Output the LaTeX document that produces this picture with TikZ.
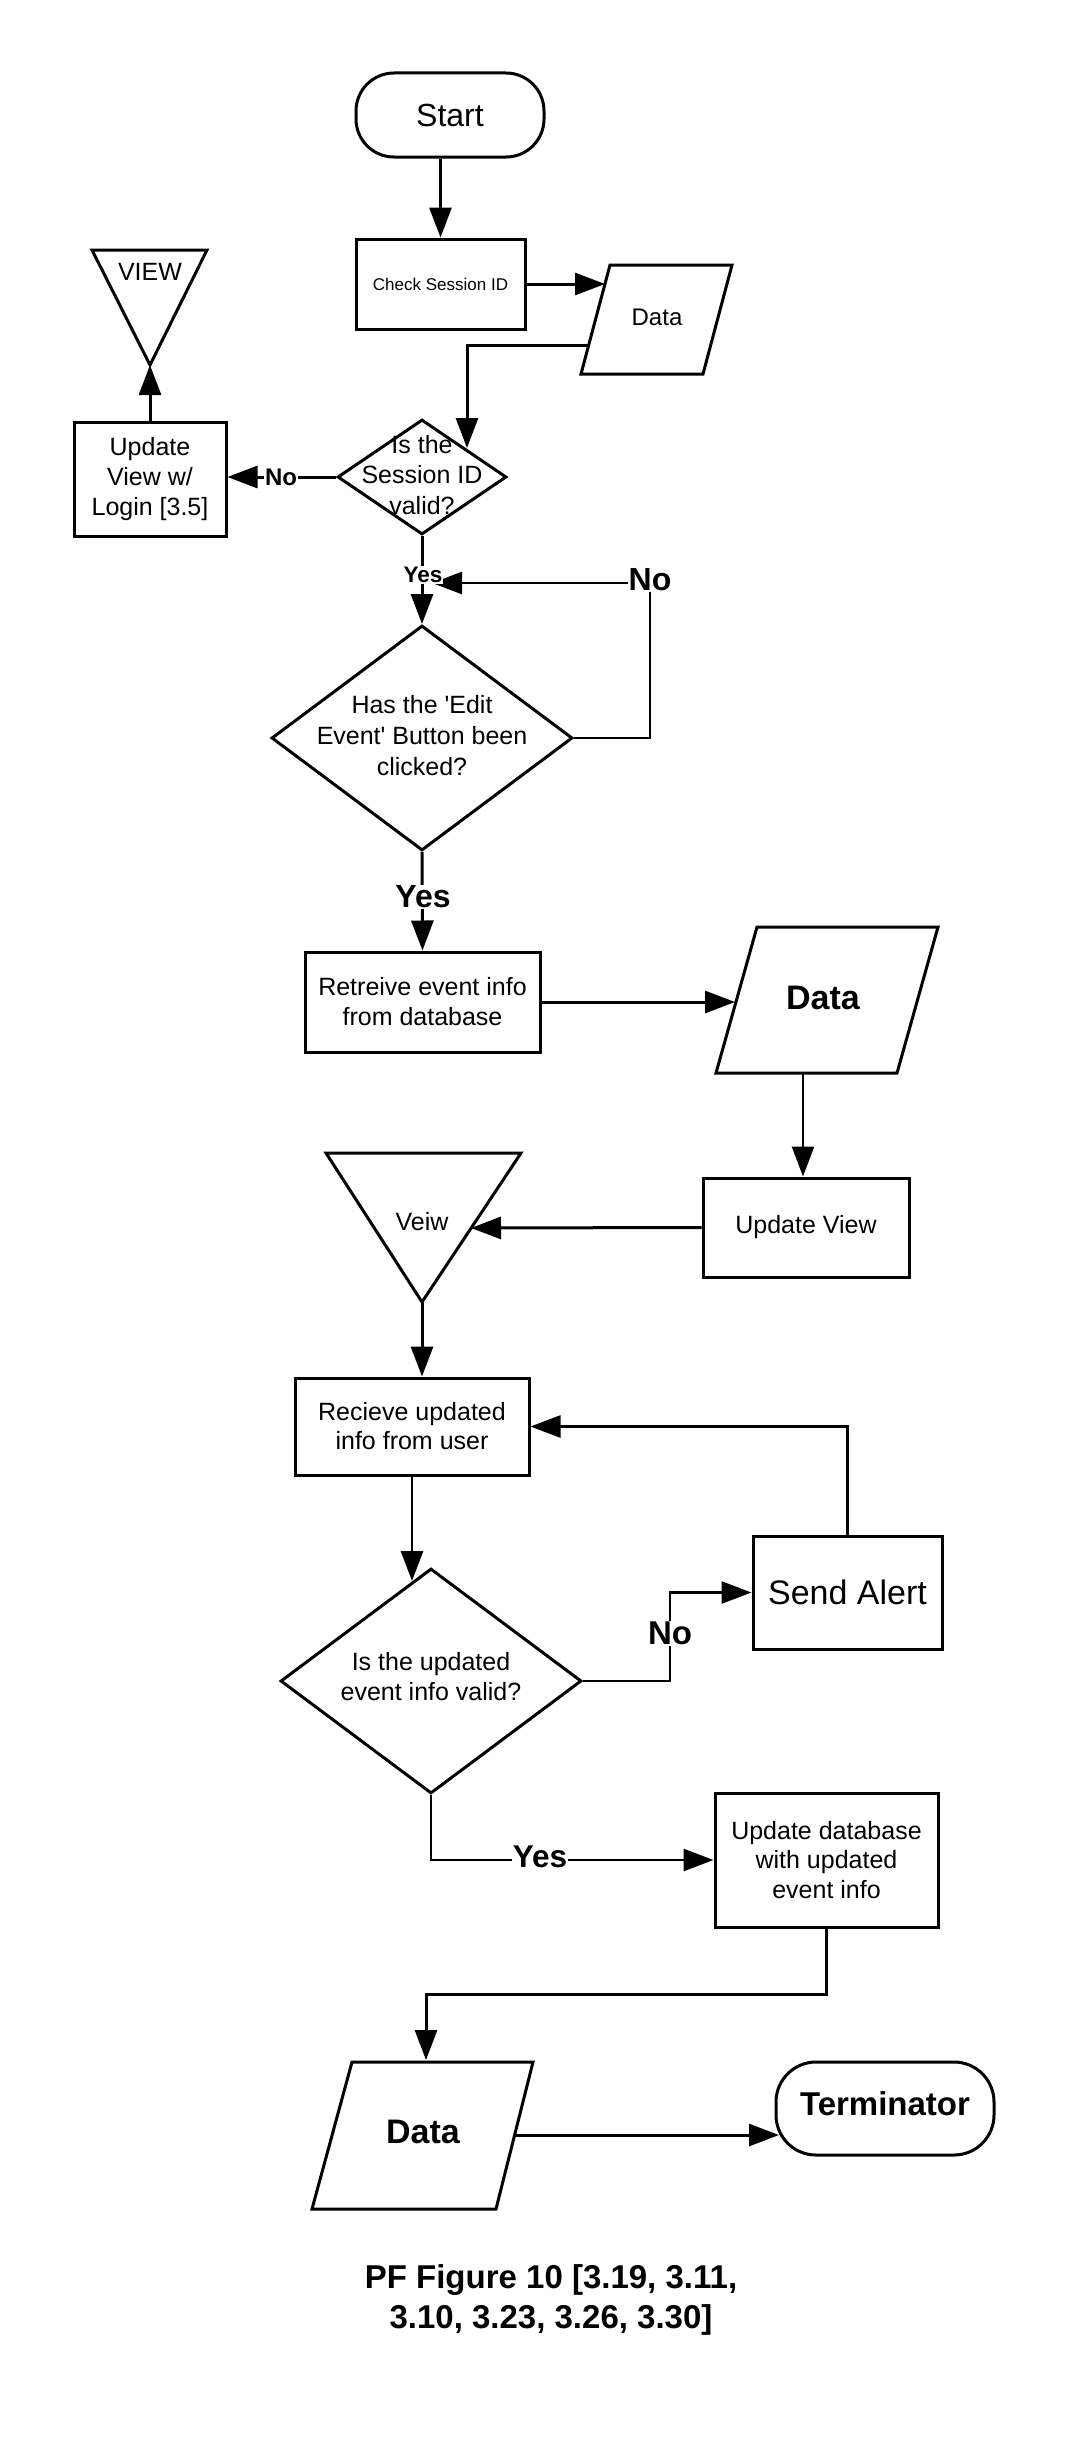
\documentclass[tikz,border=0pt]{standalone}
\usepackage{fontspec}
\setmainfont{Liberation Sans}
\usetikzlibrary{arrows.meta,shapes.geometric}
\newcommand{\myfs}[2]{\fontsize{#1}{#2}\selectfont}
\begin{document}
\begin{tikzpicture}[x=1pt,y=-1pt,
  shp/.style={draw, line width=3pt, line join=miter},
  box/.style={draw, line width=3pt, inner sep=0pt, align=center, font=\myfs{25}{30}},
  dia/.style={draw, diamond, line width=3pt, inner sep=0pt},
  txt/.style={inner sep=0pt, align=center, font=\myfs{25}{30}},
  arr/.style={line width=3pt, -{Triangle[length=30pt,width=22pt]}},
  arrthin/.style={line width=2.6pt, -{Triangle[length=30pt,width=22pt]}},
  lbl/.style={fill=white, inner sep=1pt, font=\bfseries\myfs{24}{28}}]
\useasboundingbox (0,0) rectangle (1069,2438);
\fill[white] (0,0) rectangle (1069,2438);

% ---- shapes ----
\node[box, rounded corners=38pt, minimum width=188pt, minimum height=84pt, font=\myfs{32}{36}] (start) at (450,115) {Start};
\node[box, minimum width=169pt, minimum height=90pt, font=\myfs{17}{20}] (check) at (440.5,284) {Check Session ID};

\draw[shp] (610,265) -- (732,265) -- (703,374) -- (581,374) -- cycle;
\node[txt, font=\myfs{24}{28}] (data1) at (657,317) {Data};
\coordinate (data1in) at (605,284);
\coordinate (data1out) at (589,345);

\node[dia, minimum width=169pt, minimum height=115pt] (d1) at (422,477) {};
\node[txt, font=\myfs{25}{30.5}] (d1t) at (422,475) {Is the\\Session ID\\valid?};
\coordinate (d1in) at (467,448);

\node[box, minimum width=152pt, minimum height=114pt] (upd1) at (150,479) {Update\\View w/\\Login [3.5]};

\draw[shp] (92,250) -- (207,250) -- (150,365) -- cycle;
\node[txt, font=\myfs{25}{28}] (view1) at (150,272) {VIEW};
\coordinate (view1apex) at (150,365);

\node[dia, minimum width=301pt, minimum height=225pt] (d2) at (422,738) {};
\node[txt, font=\myfs{25}{31}] (d2t) at (422,736) {Has the \textquotesingle Edit\\Event\textquotesingle{} Button been\\clicked?};
\coordinate (loopc) at (650,583);
\coordinate (loopend) at (432,583);

\node[box, minimum width=235pt, minimum height=100pt] (retr) at (422.5,1002) {Retreive event info\\from database};

\draw[shp] (757,927) -- (938,927) -- (897,1073) -- (716,1073) -- cycle;
\node[txt, font=\bfseries\myfs{34}{38}] (data2) at (823,998) {Data};
\coordinate (data2in) at (735,1002);
\coordinate (data2out) at (803,1073);

\node[box, minimum width=206pt, minimum height=99pt] (updv) at (806,1227.5) {Update View};

\draw[shp] (326,1153) -- (521,1153) -- (422,1302) -- cycle;
\node[txt, font=\myfs{25}{28}] (veiw) at (422,1222) {Veiw};
\coordinate (veiwin) at (471,1228);
\coordinate (veiwapex) at (422,1302);

\node[box, minimum width=234pt, minimum height=97pt, font=\myfs{25}{29}] (recv) at (412,1426.5) {Recieve updated\\info from user};

\node[dia, minimum width=301pt, minimum height=225pt] (d3) at (431,1681) {};
\node[txt, font=\myfs{25}{30}] (d3t) at (431,1677) {Is the updated\\event info valid?};
\coordinate (d3in) at (412,1581);
\coordinate (nob) at (670,1592.5);

\node[box, minimum width=189pt, minimum height=113pt, font=\myfs{34}{38}] (alert) at (847.5,1592.5) {Send Alert};

\node[box, minimum width=223pt, minimum height=134pt, font=\myfs{25}{29.5}] (updb) at (826.5,1860) {Update database\\with updated\\event info};
\coordinate (jn) at (426,1994);

\draw[shp] (352,2062) -- (533,2062) -- (496,2209) -- (312,2209) -- cycle;
\node[txt, font=\bfseries\myfs{34}{38}] (data3) at (423,2132) {Data};
\coordinate (data3in) at (426,2060);
\coordinate (data3out) at (515,2135);

\node[draw, line width=3pt, rounded corners=40pt, minimum width=218pt, minimum height=93pt, inner sep=0pt] (term) at (885,2108.5) {};
\node[txt, font=\bfseries\myfs{33}{36}] (termt) at (885,2104) {Terminator};
\coordinate (termin) at (779,2135);

% ---- connectors ----
\draw[arr] (check.north |- start.south) -- (check.north);
\draw[arr] (check.east) -- (data1in);
\draw[arr] (data1out) -| (d1in);
\draw[arr] (d1.west) -- (d1.west -| upd1.east);
\draw[arr] (upd1.north) -- (view1apex);
\draw[arr] (d1.south) -- (d2.north);
\draw[arrthin] (d2.east) -| (loopc) -- (loopend);
\draw[arr] (d2.south) -- (retr.north);
\draw[arr] (retr.east) -- (data2in);
\draw[arrthin] (data2out) -- (data2out |- updv.north);
\draw[arr] (updv.west) -- (veiwin);
\draw[arr] (veiwapex) -- (veiwapex |- recv.north);
\draw[arrthin] (recv.south) -- (d3in);
\draw[arrthin] (d3.east) -| (nob) -- (alert.west);
\draw[arrthin] (alert.north) |- (recv.east);
\draw[arrthin] (d3.south) |- (updb.west);
\draw[arr] (updb.south) |- (jn) -- (data3in);
\draw[arr] (data3out) -- (termin);

% ---- labels ----
\node[lbl] (no1) at (281,477) {No};
\node[lbl, font=\bfseries\myfs{22.5}{26}] (yes1) at (423,575) {Yes};
\node[lbl, font=\bfseries\myfs{32}{36}] (no2) at (650,580) {No};
\node[lbl, font=\bfseries\myfs{32}{36}] (yes2) at (423,897) {Yes};
\node[lbl, font=\bfseries\myfs{33}{36}] (no3) at (670,1633) {No};
\node[lbl, font=\bfseries\myfs{31.5}{35}] (yes3) at (540,1857) {Yes};

\node[txt, font=\bfseries\myfs{33}{40}] (cap) at (551,2300) {PF Figure 10 [3.19, 3.11,\\3.10, 3.23, 3.26, 3.30]};
\end{tikzpicture}
\end{document}
